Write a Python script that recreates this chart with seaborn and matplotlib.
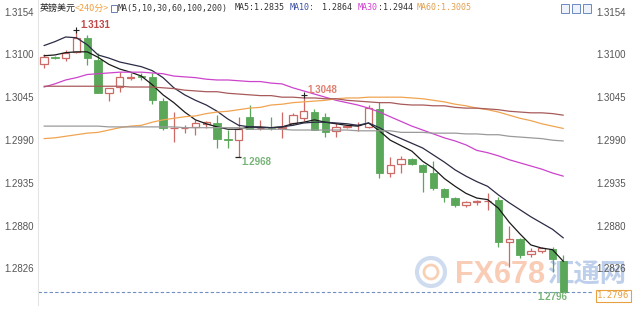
import numpy as np
import pandas as pd
import matplotlib
matplotlib.use("Agg")
import matplotlib.pyplot as plt
import seaborn as sns
from matplotlib.patches import Rectangle, Circle

# ---------------- data ----------------
opens = [1.3087, 1.3096, 1.3095, 1.3103, 1.3121, 1.3093, 1.3050, 1.3058, 1.3070, 1.3072,
         1.3071, 1.3040, 1.3005, 1.3005, 1.3007, 1.3011, 1.3012, 1.2991, 1.2990, 1.3020,
         1.3005, 1.3007, 1.3006, 1.3012, 1.3018, 1.3026, 1.3020, 1.3002, 1.3007, 1.3009,
         1.3007, 1.3030, 1.2948, 1.2960, 1.2966, 1.2958, 1.2948, 1.2928, 1.2916, 1.2907,
         1.2911, 1.2912, 1.2913, 1.2860, 1.2864, 1.2845, 1.2848, 1.2851, 1.2835]
highs = [1.3100, 1.3098, 1.3105, 1.3131, 1.3125, 1.3102, 1.3057, 1.3077, 1.3076, 1.3076,
         1.3076, 1.3044, 1.3026, 1.3010, 1.3016, 1.3015, 1.3022, 1.3003, 1.3020, 1.3035,
         1.3016, 1.3020, 1.3026, 1.3025, 1.3048, 1.3030, 1.3025, 1.3012, 1.3010, 1.3013,
         1.3035, 1.3039, 1.2968, 1.2970, 1.2967, 1.2960, 1.2963, 1.2929, 1.2917, 1.2912,
         1.2914, 1.2922, 1.2917, 1.2880, 1.2865, 1.2852, 1.2854, 1.2853, 1.2843]
lows = [1.3082, 1.3094, 1.3091, 1.3102, 1.3086, 1.3050, 1.3040, 1.3052, 1.3067, 1.3067,
        1.3036, 1.3003, 1.2988, 1.2999, 1.2997, 1.3006, 1.2980, 1.2980, 1.2968, 1.3004,
        1.3003, 1.3003, 1.2993, 1.3010, 1.3014, 1.3003, 1.2994, 1.2994, 1.3005, 1.3002,
        1.3005, 1.2942, 1.2943, 1.2948, 1.2958, 1.2924, 1.2926, 1.2911, 1.2905, 1.2904,
        1.2907, 1.2901, 1.2853, 1.2828, 1.2839, 1.2841, 1.2846, 1.2821, 1.2796]
closes = [1.3096, 1.3095, 1.3102, 1.3121, 1.3095, 1.3050, 1.3057, 1.3071, 1.3071, 1.3071,
          1.3041, 1.3006, 1.3006, 1.3006, 1.3012, 1.3013, 1.2992, 1.2990, 1.3004, 1.3004,
          1.3006, 1.3006, 1.3007, 1.3022, 1.3027, 1.3003, 1.3001, 1.3007, 1.3008, 1.3010,
          1.3031, 1.2948, 1.2958, 1.2966, 1.2960, 1.2949, 1.2929, 1.2917, 1.2907, 1.2911,
          1.2912, 1.2912, 1.2860, 1.2864, 1.2843, 1.2848, 1.2852, 1.2838, 1.2796]

ma5 = [1.3098, 1.3099, 1.3102, 1.3103, 1.3103, 1.3096, 1.3087, 1.3081, 1.3077, 1.3072,
       1.3061, 1.3048, 1.3038, 1.3026, 1.3016, 1.3011, 1.3007, 1.3004, 1.3004, 1.3007,
       1.3007, 1.3006, 1.3007, 1.3011, 1.3013, 1.3016, 1.3013, 1.3011, 1.3009, 1.3008,
       1.3012, 1.3002, 1.2990, 1.2983, 1.2976, 1.2963, 1.2954, 1.2941, 1.2931, 1.2922,
       1.2916, 1.2914, 1.2903, 1.2885, 1.2870, 1.2856, 1.2852, 1.2850, 1.2835]
ma10 = [1.3111, 1.3116, 1.3122, 1.3121, 1.3112, 1.3099, 1.3095, 1.3090, 1.3087, 1.3084,
        1.3079, 1.3070, 1.3057, 1.3048, 1.3041, 1.3035, 1.3027, 1.3017, 1.3009, 1.3007,
        1.3006, 1.3006, 1.3007, 1.3009, 1.3012, 1.3013, 1.3013, 1.3012, 1.3011, 1.3009,
        1.3012, 1.3006, 1.2998, 1.2992, 1.2986, 1.2980, 1.2971, 1.2962, 1.2952, 1.2944,
        1.2937, 1.2931, 1.2920, 1.2910, 1.2901, 1.2892, 1.2884, 1.2876, 1.2865]
ma30 = [1.3058, 1.3062, 1.3067, 1.3070, 1.3074, 1.3075, 1.3076, 1.3077, 1.3077, 1.3077,
        1.3076, 1.3075, 1.3072, 1.3071, 1.3070, 1.3068, 1.3067, 1.3067, 1.3066, 1.3065,
        1.3065, 1.3063, 1.3062, 1.3057, 1.3053, 1.3049, 1.3045, 1.3041, 1.3038, 1.3035,
        1.3031, 1.3026, 1.3020, 1.3014, 1.3008, 1.3003, 1.2998, 1.2993, 1.2989, 1.2984,
        1.2977, 1.2974, 1.2970, 1.2965, 1.2961, 1.2957, 1.2953, 1.2948, 1.2944]
ma60 = [1.2992, 1.2993, 1.2995, 1.2997, 1.2999, 1.3000, 1.3003, 1.3006, 1.3008, 1.3009,
        1.3013, 1.3016, 1.3018, 1.3020, 1.3021, 1.3024, 1.3026, 1.3027, 1.3029, 1.3031,
        1.3032, 1.3035, 1.3036, 1.3038, 1.3039, 1.3040, 1.3041, 1.3043, 1.3044, 1.3044,
        1.3045, 1.3045, 1.3045, 1.3045, 1.3044, 1.3043, 1.3041, 1.3039, 1.3036, 1.3034,
        1.3031, 1.3029, 1.3026, 1.3022, 1.3018, 1.3015, 1.3011, 1.3008, 1.3005]
ma100 = [1.3059, 1.3059, 1.3059, 1.3059, 1.3059, 1.3059, 1.3059, 1.3059, 1.3058, 1.3058,
         1.3058, 1.3057, 1.3056, 1.3054, 1.3053, 1.3052, 1.3052, 1.3050, 1.3049, 1.3048,
         1.3047, 1.3047, 1.3045, 1.3045, 1.3044, 1.3044, 1.3043, 1.3043, 1.3041, 1.3040,
         1.3039, 1.3038, 1.3038, 1.3036, 1.3035, 1.3035, 1.3034, 1.3034, 1.3032, 1.3031,
         1.3031, 1.3030, 1.3029, 1.3027, 1.3026, 1.3025, 1.3025, 1.3024, 1.3022]
ma200 = [1.3008, 1.3008, 1.3008, 1.3008, 1.3008, 1.3008, 1.3007, 1.3007, 1.3007, 1.3007,
         1.3007, 1.3007, 1.3007, 1.3006, 1.3006, 1.3006, 1.3006, 1.3006, 1.3006, 1.3004,
         1.3004, 1.3004, 1.3004, 1.3003, 1.3003, 1.3003, 1.3003, 1.3003, 1.3003, 1.3002,
         1.3002, 1.3002, 1.3002, 1.3000, 1.3000, 1.3000, 1.2999, 1.2999, 1.2999, 1.2998,
         1.2998, 1.2997, 1.2997, 1.2995, 1.2994, 1.2993, 1.2992, 1.2990, 1.2989]

yticks = [1.3154, 1.3100, 1.3045, 1.2990, 1.2935, 1.2880, 1.2826]
last_price = 1.2796
high_mark = (3, 1.3131)
mid_high_mark = (24, 1.3048)
low_mark = (18, 1.2968)
last_low_mark = (48, 1.2796)

# ---------------- style ----------------
sns.set_theme(style="white")
plt.rcParams['font.family'] = ['Liberation Sans', 'Noto Sans CJK SC', 'DejaVu Sans']

W, H = 640, 310
fig = plt.figure(figsize=(6.4, 3.1), dpi=100)
fig.patch.set_facecolor('white')
ax = fig.add_axes([38 / W, 5 / H, (592 - 38) / W, 305 / H])
ax.patch.set_alpha(0)

up_col = '#cd6a66'
dn_col = '#5aa75a'

n = len(opens)
idx = np.arange(n)
o = np.array(opens); c = np.array(closes)
hi = np.array(highs); lo = np.array(lows)
up = c >= o
b_lo = np.minimum(o, c)
b_h = np.maximum(np.abs(c - o), 0.00007)

ax.vlines(idx, lo, hi, colors=[up_col if u else dn_col for u in up], lw=0.9, zorder=3)
ax.bar(idx[up], b_h[up], bottom=b_lo[up], width=0.68, facecolor='white',
       edgecolor=up_col, linewidth=0.9, zorder=4)
ax.bar(idx[~up], b_h[~up], bottom=b_lo[~up], width=0.68, color=dn_col,
       edgecolor=dn_col, linewidth=0.6, zorder=4)

ma_df = pd.DataFrame({'idx': idx, 'MA5': ma5, 'MA10': ma10, 'MA30': ma30,
                      'MA60': ma60, 'MA100': ma100, 'MA200': ma200})
long = ma_df.melt(id_vars='idx', var_name='ma', value_name='value')
palette = {'MA5': '#1a1a1a', 'MA10': '#2b2b45', 'MA30': '#cc44cc',
           'MA60': '#f0a452', 'MA100': '#a85a5a', 'MA200': '#9a9a9a'}
sns.lineplot(data=long, x='idx', y='value', hue='ma', palette=palette,
             linewidth=0.9, legend=False, ax=ax, zorder=5)

ax.axhline(last_price, ls=(0, (3, 2)), color='#6f8fc0', lw=0.8, zorder=2)

ax.set_xlim(-0.555, 50.65)
ax.set_ylim(1.27792, 1.31693)
ax.set_xticks([])
ax.set_yticks(yticks)
ax.set_yticklabels([f'{v:.4f}' for v in yticks])
ax.tick_params(axis='y', length=0, labelsize=7, labelcolor='#555555', pad=3,
               labelright=True, left=False, right=False)
ax.set_xlabel('')
ax.set_ylabel('')
for s in ['top', 'right', 'bottom']:
    ax.spines[s].set_visible(False)
ax.spines['left'].set_color('#e4e4e4')
ax.spines['left'].set_linewidth(0.8)

# markers and extreme labels
ax.plot(*high_mark, marker='+', color='#222222', ms=5, mew=0.8, zorder=6)
ax.text(4.7, 1.3137, f'{high_mark[1]:.4f}', color='#c04848', fontsize=7,
        fontweight='bold', ha='center', va='center', zorder=6)
ax.plot(*mid_high_mark, marker='+', color='#222222', ms=5, mew=0.8, zorder=6)
ax.text(25.7, 1.3054, f'{mid_high_mark[1]:.4f}', color='#e08070', fontsize=7,
        fontweight='bold', ha='center', va='center', zorder=6)
ax.plot(low_mark[0] - 0.1, low_mark[1], marker='_', color='#222222', ms=4, mew=0.9, zorder=6)
ax.text(19.6, 1.2962, f'{low_mark[1]:.4f}', color='#78b478', fontsize=7,
        fontweight='bold', ha='center', va='center', zorder=6)
ax.text(47.0, 1.2790, f'{last_low_mark[1]:.4f}', color='#78b478', fontsize=7,
        fontweight='bold', ha='center', va='center', zorder=6)

# right-side last price box
fig.text(597 / W, 1 - 296 / H, f'{last_price:.4f}', color='#e8a040', fontsize=6.5,
         family='DejaVu Sans Mono', va='center', ha='left',
         bbox=dict(boxstyle='square,pad=0.15', fc='white', ec='#e8a040', lw=0.8))

# header
ty = 1 - 8 / H
fig.text(40 / W, ty, '英镑美元', fontsize=6.5, color='#222222', va='center',
         family=['Noto Sans CJK SC', 'DejaVu Sans'])
fig.text(75 / W, ty, '<240分>', fontsize=6.5, color='#f0a040', va='center',
         family=['Noto Sans CJK SC', 'DejaVu Sans'])
fig.patches.append(Rectangle((110.5 / W, 1 - 12 / H), 6 / W, 7 / H, transform=fig.transFigure,
                             fill=False, ec='#6a80b0', lw=0.7))
mono = 'DejaVu Sans Mono'
fig.text(118 / W, ty, 'MA(5,10,30,60,100,200)', fontsize=6, color='#333333', va='center', family=mono)
fig.text(235 / W, ty, 'MA5:1.2835', fontsize=6, color='#333333', va='center', family=mono)
fig.text(290 / W, ty, 'MA10:', fontsize=6, color='#3a4fa0', va='center', family=mono)
fig.text(322 / W, ty, '1.2864', fontsize=6, color='#333333', va='center', family=mono)
fig.text(358 / W, ty, 'MA30', fontsize=6, color='#d040d0', va='center', family=mono)
fig.text(378 / W, ty, ':1.2944', fontsize=6, color='#333333', va='center', family=mono)
fig.text(417 / W, ty, 'MA60:1.3005', fontsize=6, color='#e0a050', va='center', family=mono)
for xi in (561, 572, 583):
    fig.patches.append(Rectangle((xi / W, 1 - 13 / H), 8 / W, 9 / H, transform=fig.transFigure,
                                 fill=True, fc='#eef3fb', ec='#6a8ac0', lw=0.7))

# watermark
fig.patches.append(Circle((4.31, 3.1 - 2.72), 0.14, transform=fig.dpi_scale_trans,
                          fill=False, ec='#a9c0e4', lw=3, alpha=0.55, zorder=-2))
fig.patches.append(Circle((4.31, 3.1 - 2.72), 0.07, transform=fig.dpi_scale_trans,
                          fill=False, ec='#f3b286', lw=2, alpha=0.6, zorder=-2))
fig.text(455 / W, 1 - 275 / H, 'FX678', fontsize=22, fontweight='bold', color='#f5a27a',
         alpha=0.55, va='center', ha='left', family='Liberation Sans', zorder=-1)
fig.text(547 / W, 1 - 275 / H, '汇通网', fontsize=19, fontweight='bold', color='#7fa0da',
         alpha=0.5, va='center', ha='left', family=['Noto Sans CJK SC', 'DejaVu Sans'], zorder=-1)

fig.savefig('out.png', dpi=100, facecolor='white')
